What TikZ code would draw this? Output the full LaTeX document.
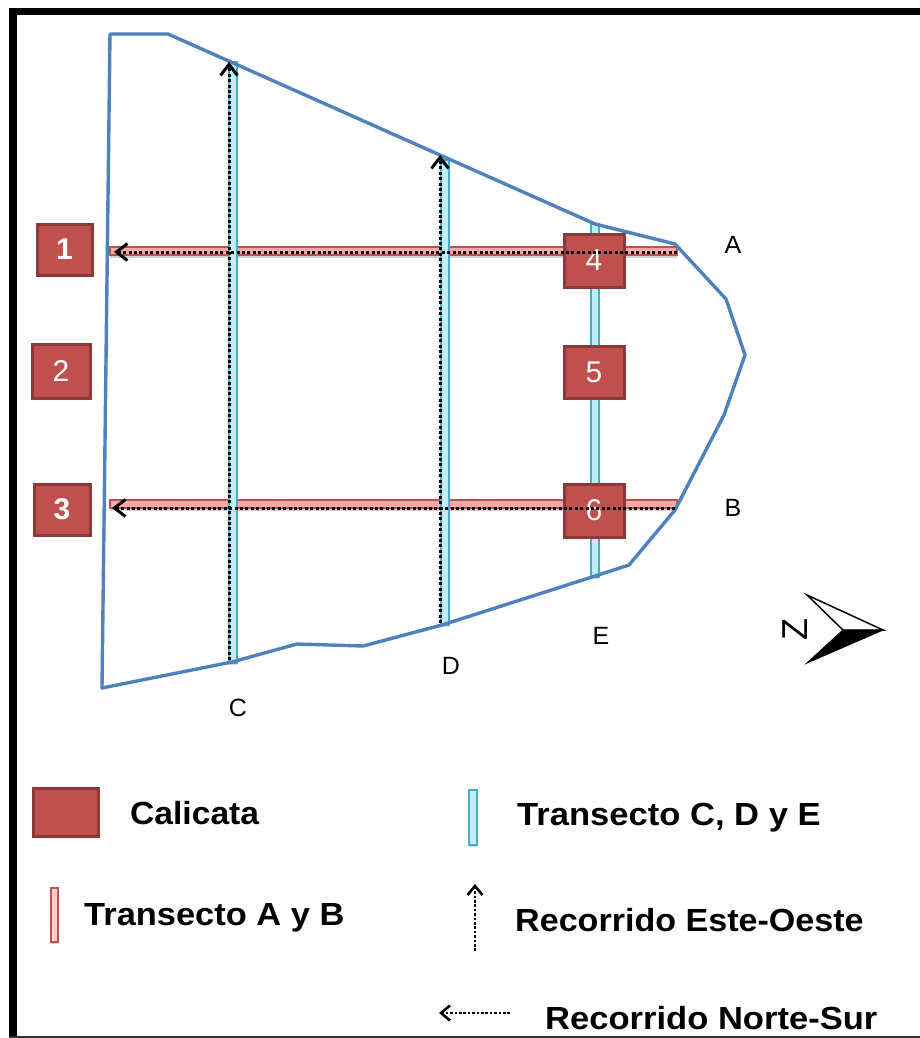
\documentclass[tikz,border=0pt]{standalone}
\usepackage{fontspec}
\setmainfont{Liberation Sans}
\usetikzlibrary{shadows,arrows.meta}
\definecolor{boxfill}{HTML}{C0504D}
\definecolor{boxline}{HTML}{8C3A38}
\definecolor{siteline}{HTML}{4F81BD}
\definecolor{cyanfill}{HTML}{BDEEFB}
\definecolor{cyanline}{HTML}{4BACC6}
\definecolor{pinkfill}{HTML}{F7A8A8}
\definecolor{pinkline}{HTML}{C0504D}
\tikzset{
  pitbox/.style={draw=boxline,line width=3pt,fill=boxfill,inner sep=0,text=white,font=\fontsize{30}{30}\selectfont},
  legendpit/.style={pitbox,minimum width=65pt,minimum height=48pt},
  ewstrip/.style={draw=cyanline,line width=2pt,fill=cyanfill,inner sep=0,minimum width=8pt,drop shadow={opacity=.3,shadow xshift=0pt,shadow yshift=-2pt}},
  nsstrip/.style={draw=pinkline,line width=2pt,fill=pinkfill,inner sep=0,minimum height=8pt,drop shadow={opacity=.35,shadow xshift=0pt,shadow yshift=-2.5pt}},
  route/.style={draw=black,line width=3pt,dash pattern=on 3pt off 2.4pt,-{Straight Barb[length=11pt,width=17pt]}},
  legendroute/.style={draw=black,line width=2.6pt,dash pattern=on 2.6pt off 1.8pt,-{Straight Barb[length=9pt,width=15pt]}},
  maplabel/.style={inner sep=0,font=\fontsize{25}{25}\selectfont},
  legendtext/.style={inner sep=0,anchor=base west,font=\bfseries\fontsize{32}{32}\selectfont},
  site/.style={draw=siteline,line width=3.4pt,line join=round},
}
\begin{document}
\begin{tikzpicture}[x=1pt,y=-1pt]
\useasboundingbox (0,0) rectangle (920,1038);
\fill[white] (0,0) rectangle (920,1038);
% frame
\fill[black] (9,8) rectangle (920,15);
\fill[black] (9,8) rectangle (17,1038);
\fill[black!80] (9,1035.5) rectangle (920,1038);
% transects
\node[nsstrip,minimum width=567pt] (ta) at (393.5,251) {};
\node[nsstrip,minimum width=567pt] (tb) at (393.5,504) {};
\node[ewstrip,minimum height=601pt] (tc) at (232.5,362.5) {};
\node[ewstrip,minimum height=465pt] (td) at (444.5,392.5) {};
\node[ewstrip,minimum height=353pt] (te) at (594.5,400.5) {};
% site outline
\coordinate (p1) at (110,34);
\coordinate (p2) at (168,34);
\coordinate (p3) at (595,224);
\coordinate (p4) at (675,244);
\coordinate (p5) at (726,299);
\coordinate (p6) at (745,355);
\coordinate (p7) at (724,415);
\coordinate (p8) at (675,510);
\coordinate (p9) at (629,565);
\coordinate (p10) at (592,577);
\coordinate (p11) at (442,625);
\coordinate (p12) at (363,646);
\coordinate (p13) at (297,644);
\coordinate (p14) at (232,662);
\coordinate (p15) at (102,688);
\draw[site] (p1) -- (p2) -- (p3) -- (p4) -- (p5) -- (p6) -- (p7) -- (p8) -- (p9) -- (p10) -- (p11) -- (p12) -- (p13) -- (p14) -- (p15) -- cycle;
% pits
\node[pitbox,minimum width=55pt,minimum height=51pt,font=\bfseries\fontsize{30}{30}\selectfont] (n1) at (64.5,249.5) {1};
\node[pitbox,minimum width=58pt,minimum height=54pt] (n2) at (61,371) {2};
\node[pitbox,minimum width=56pt,minimum height=51pt,font=\bfseries\fontsize{30}{30}\selectfont] (n3) at (62,509.5) {3};
\node[pitbox,minimum width=60pt,minimum height=53pt] (n4) at (594,260.5) {4};
\node[pitbox,minimum width=60pt,minimum height=52pt] (n5) at (594,372) {5};
\node[pitbox,minimum width=60pt,minimum height=53pt] (n6) at (594,510.5) {6};
% routes
\coordinate (ras) at (677,252);
\coordinate (rae) at (114,252);
\coordinate (rbs) at (675,508);
\coordinate (rbe) at (112,508);
\coordinate (rcs) at (229,660);
\coordinate (rce) at (229,62);
\coordinate (rds) at (440,623);
\coordinate (rde) at (440,155);
\draw[route] (ras) -- (rae);
\draw[route] (rbs) -- (rbe);
\draw[route] (rcs) -- (rce);
\draw[route] (rds) -- (rde);
% labels
\node[maplabel] (la) at (733,245) {A};
\node[maplabel] (lb) at (733,508) {B};
\node[maplabel] (lc) at (238,708) {C};
\node[maplabel] (ld) at (451,666) {D};
\node[maplabel] (le) at (601,636) {E};
% north arrow
\coordinate (nt) at (883,630);
\coordinate (nu) at (807,595);
\coordinate (ni) at (843,630);
\coordinate (nl) at (807,663);
\filldraw[fill=white,draw=black,line width=1.5pt,line join=miter] (nu) -- (nt) -- (ni) -- cycle;
\filldraw[black,line width=1pt] (nl) -- (nt) -- (ni) -- cycle;
\node[rotate=90,inner sep=0,font=\fontsize{36}{36}\selectfont] (north) at (795,629) {Z};
% legend
\node[legendpit] (lgbox) at (65.5,812.5) {};
\node[legendtext,xscale=1.05] (lgcal) at (130,824) {Calicata};
\node[ewstrip,minimum height=55pt] (lgc) at (472.5,817) {};
\node[legendtext,xscale=1.08] (lgte) at (517,825) {Transecto C, D y E};
\node[nsstrip,minimum width=7.5pt,minimum height=54pt,fill=pink!75!white] (lgp) at (54.5,914.5) {};
\node[legendtext,xscale=1.076] (lgta) at (84,925) {Transecto A y B};
\coordinate (les) at (475,951);
\coordinate (lee) at (475,884);
\draw[legendroute] (les) -- (lee);
\node[legendtext,xscale=1.065] (lgre) at (515,931) {Recorrido Este-Oeste};
\coordinate (lns) at (510,1013);
\coordinate (lne) at (439,1013);
\draw[legendroute] (lns) -- (lne);
\node[legendtext,xscale=1.08] (lgrn) at (545,1029) {Recorrido Norte-Sur};
\end{tikzpicture}
\end{document}
